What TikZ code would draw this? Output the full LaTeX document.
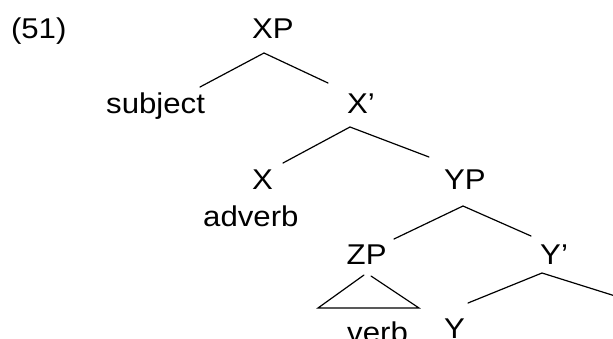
\documentclass[tikz,border=0pt]{standalone}
\usepackage{fontspec}
\setmainfont{Liberation Sans}[FakeStretch=1.09]
\begin{document}
\begin{tikzpicture}[x=1pt,y=-1pt,
  lbl/.style={anchor=base west,inner sep=0pt,font=\fontsize{28.6}{34}\selectfont},
  br/.style={line width=1.2pt,line cap=round}]
\useasboundingbox (0,0) rectangle (613,338);
% labels
\node[lbl] (num) at (10.8,38) {(51)};
\node[lbl] (XP) at (252,38) {XP};
\node[lbl] (subj) at (106,113) {subject};
\node[lbl] (Xbar) at (347,113) {X’};
\node[lbl] (X) at (252,189) {X};
\node[lbl] (YP) at (444,189) {YP};
\node[lbl] (adv) at (203,226) {adverb};
\node[lbl] (ZP) at (346.5,264) {ZP};
\node[lbl] (Ybar) at (540,264) {Y’};
\node[lbl] (verb) at (347,342) {verb};
\node[lbl] (Y) at (444,338) {Y};
% branch points
\coordinate (XPa) at (264,53);
\coordinate (subjE) at (200,87);
\coordinate (XbarE) at (328,83);
\coordinate (Xbara) at (350,127);
\coordinate (XE) at (283,163);
\coordinate (YPE) at (429,157);
\coordinate (YPa) at (463,206);
\coordinate (ZPE) at (394,239);
\coordinate (YbarE) at (531,236);
\coordinate (ZPl) at (364,275);
\coordinate (ZPr) at (371,276);
\coordinate (TL) at (318,308);
\coordinate (TR) at (419,308);
\coordinate (Ybara) at (542,273);
\coordinate (YE) at (468,303);
\coordinate (RE) at (620,297.5);
% branches
\draw[br] (subjE) -- (XPa) -- (XbarE);
\draw[br] (XE) -- (Xbara) -- (YPE);
\draw[br] (ZPE) -- (YPa) -- (YbarE);
\draw[br] (ZPl) -- (TL) -- (TR) -- (ZPr);
\draw[br] (YE) -- (Ybara) -- (RE);
\end{tikzpicture}
\end{document}
